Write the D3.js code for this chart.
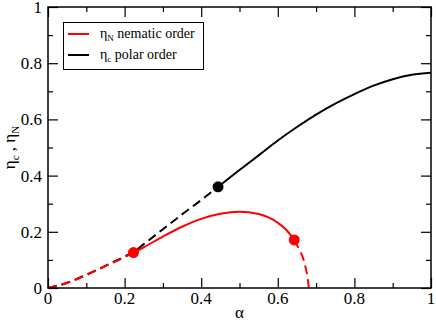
<!DOCTYPE html>
<html><head><meta charset="utf-8">
<script src="https://cdn.jsdelivr.net/npm/d3@7"></script>
<style>body{margin:0;background:#fff}svg{display:block}</style>
</head><body><svg id="c" width="436" height="321"></svg>
<script>
// Data
const blackDashedAlpha = [0, 0.05, 0.1, 0.15, 0.2, 0.223, 0.25, 0.3, 0.35, 0.4, 0.444];
const blackDashedEta   = [0, 0.019, 0.047, 0.079, 0.112, 0.128, 0.156, 0.209, 0.262, 0.313, 0.36];
const blackSolidAlpha  = [0.444, 0.5, 0.55, 0.6, 0.65, 0.7, 0.75, 0.8, 0.85, 0.9, 0.95, 1.0];
const blackSolidEta    = [0.36, 0.42, 0.472, 0.525, 0.573, 0.617, 0.656, 0.69, 0.72, 0.743, 0.759, 0.766];
const redDashed1Alpha  = [0, 0.05, 0.1, 0.15, 0.2, 0.223];
const redDashed1Eta    = [0, 0.018, 0.046, 0.078, 0.11, 0.126];
const redSolidAlpha    = [0.223, 0.25, 0.3, 0.35, 0.4, 0.45, 0.5, 0.55, 0.6, 0.62, 0.643];
const redSolidEta      = [0.126, 0.145, 0.183, 0.218, 0.246, 0.264, 0.271, 0.263, 0.232, 0.21, 0.171];
const redDashed2Alpha  = [0.643, 0.655, 0.665, 0.673, 0.678, 0.681];
const redDashed2Eta    = [0.171, 0.14, 0.11, 0.07, 0.035, 0];
const redMarkers   = [[0.223, 0.126], [0.643, 0.171]];
const blackMarkers = [[0.444, 0.36]];
const majorTicks = [0, 0.2, 0.4, 0.6, 0.8, 1];
const majorLabels = ["0", "0.2", "0.4", "0.6", "0.8", "1"];
const minorTicks = [0.1, 0.3, 0.5, 0.7, 0.9];

const FONT = "'Liberation Serif', 'DejaVu Serif', serif";
const svg = d3.select("#c");
const L = 48, R = 431, T = 7, B = 288;
const x = d3.scaleLinear().domain([0, 1]).range([L, R]);
const y = d3.scaleLinear().domain([0, 1]).range([B, T]);

const zip = (a, b) => a.map((v, i) => [v, b[i]]);
const line = d3.line().x(d => x(d[0])).y(d => y(d[1])).curve(d3.curveMonotoneX);

function path(data, color, dashed) {
  svg.append("path").attr("d", line(data)).attr("fill", "none")
    .attr("stroke", color).attr("stroke-width", 2)
    .attr("stroke-dasharray", dashed ? "9,5" : null);
}
path(zip(blackDashedAlpha, blackDashedEta), "#000", true);
path(zip(blackSolidAlpha, blackSolidEta), "#000", false);
path(zip(redDashed1Alpha, redDashed1Eta), "#ff0000", true);
path(zip(redSolidAlpha, redSolidEta), "#ff0000", false);
path(zip(redDashed2Alpha, redDashed2Eta), "#ff0000", true);

svg.selectAll(".rm").data(redMarkers).enter().append("circle")
  .attr("cx", d => x(d[0])).attr("cy", d => y(d[1])).attr("r", 5.5).attr("fill", "#ff0000");
svg.selectAll(".bm").data(blackMarkers).enter().append("circle")
  .attr("cx", d => x(d[0])).attr("cy", d => y(d[1])).attr("r", 5.5).attr("fill", "#000");

// Axes (ticks inside, on all four sides)
function axes(gen, tr, vals, size) {
  const a = gen.tickValues(vals).tickSizeInner(size).tickSizeOuter(0).tickFormat("");
  const g = svg.append("g").attr("transform", tr).call(a);
  g.select(".domain").remove();
  g.selectAll("line").attr("stroke", "#000").attr("stroke-width", 1.2);
  return g;
}
axes(d3.axisTop(x), `translate(0,${B})`, majorTicks, 10);
axes(d3.axisTop(x), `translate(0,${B})`, minorTicks, 5);
axes(d3.axisBottom(x), `translate(0,${T})`, majorTicks, 10);
axes(d3.axisBottom(x), `translate(0,${T})`, minorTicks, 5);
axes(d3.axisRight(y), `translate(${L},0)`, majorTicks, 10);
axes(d3.axisRight(y), `translate(${L},0)`, minorTicks, 5);
axes(d3.axisLeft(y), `translate(${R},0)`, majorTicks, 10);
axes(d3.axisLeft(y), `translate(${R},0)`, minorTicks, 5);

// tick labels
svg.append("g").selectAll("text").data(majorTicks).enter().append("text")
  .attr("x", d => x(d)).attr("y", 304).attr("text-anchor", "middle")
  .attr("font-family", FONT).attr("font-size", 17).text((d, i) => majorLabels[i]);
svg.append("g").selectAll("text").data(majorTicks).enter().append("text")
  .attr("x", 42).attr("y", d => Math.max(y(d) + 6, 13)).attr("text-anchor", "end")
  .attr("font-family", FONT).attr("font-size", 17).text((d, i) => majorLabels[i]);

// frame
svg.append("rect").attr("x", L).attr("y", T).attr("width", R - L).attr("height", B - T)
  .attr("fill", "none").attr("stroke", "#000").attr("stroke-width", 1.5);

// axis titles
svg.append("text").attr("x", x(0.5)).attr("y", 318).attr("text-anchor", "middle")
  .attr("font-family", FONT).attr("font-size", 17).text("α");
const yt = svg.append("text").attr("transform", `translate(15,${(T + B) / 2}) rotate(-90)`)
  .attr("text-anchor", "middle").attr("font-family", FONT).attr("font-size", 17);
yt.append("tspan").text("η");
yt.append("tspan").attr("font-size", 11).attr("dy", 4).text("c");
yt.append("tspan").attr("dy", -4).text(" , η");
yt.append("tspan").attr("font-size", 11).attr("dy", 4).text("N");

// legend
svg.append("rect").attr("x", 63.5).attr("y", 22.5).attr("width", 140).attr("height", 47)
  .attr("fill", "#fff").attr("stroke", "#000").attr("stroke-width", 1);
const leg = [["#ff0000", "N", " nematic order", 34], ["#000", "c", " polar order", 55]];
leg.forEach(([c, sub, lab, yy]) => {
  svg.append("line").attr("x1", 68).attr("x2", 89).attr("y1", yy).attr("y2", yy)
    .attr("stroke", c).attr("stroke-width", 2);
  const t = svg.append("text").attr("x", 100).attr("y", yy + 4)
    .attr("font-family", FONT).attr("font-size", 14);
  t.append("tspan").text("η");
  t.append("tspan").attr("font-size", 9).attr("dy", 3).text(sub);
  t.append("tspan").attr("dy", -3).text(lab);
});
</script></body></html>
